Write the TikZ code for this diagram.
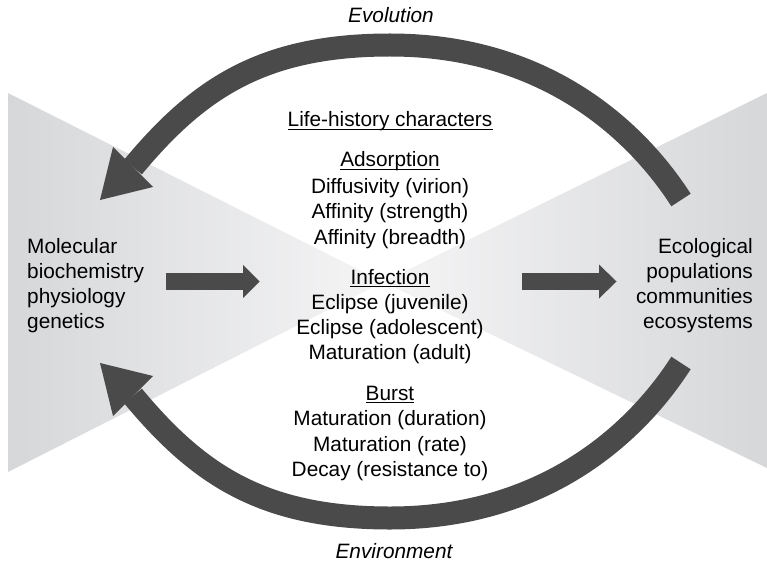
\documentclass[tikz,border=0pt]{standalone}
\usepackage{fontspec}
\setmainfont{Liberation Sans}
\definecolor{arr}{RGB}{74,74,74}
\definecolor{triL}{RGB}{214,215,217}
\definecolor{triR}{RGB}{245,245,246}
\begin{document}
\begin{tikzpicture}[x=1pt,y=-1pt,
  txt/.style={font=\fontsize{20.8}{25}\selectfont, inner sep=0pt, anchor=base, text=black},
  itxt/.style={txt, font=\fontsize{20.8}{25}\selectfont\itshape},
  lefttxt/.style={txt, anchor=base west},
  righttxt/.style={txt, anchor=base east},
  ulline/.style={draw=black, line width=1.4pt},
  bigshaft/.style={draw=arr, line width=23pt, line cap=butt},
  smallshaft/.style={draw=arr, line width=17pt, line cap=butt},
  headfill/.style={fill=arr}]
\useasboundingbox (0,0) rectangle (767,564);

% background bow-tie
\shade[left color=triL, right color=triR] (8,93) -- (8,472) -- (383,282) -- cycle;
\shade[left color=triR, right color=triL] (767,93) -- (767,468) -- (383,282) -- cycle;

% Evolution arrow (top)
\coordinate (evoTail) at (681,200);
\coordinate (evoTop) at (390,45);
\coordinate (evoBase) at (133,167);
\coordinate (evoTip) at (100,200);
\coordinate (evoB1) at (153,187);
\coordinate (evoB2) at (113,147);
\draw[bigshaft] (evoTail) .. controls (634,127) and (542,45) .. (evoTop)
   .. controls (262,45) and (198,89) .. (evoBase);
\fill[headfill] (evoTip) -- (evoB1) -- (evoB2) -- cycle;

% Environment arrow (bottom)
\coordinate (envTail) at (681,363);
\coordinate (envBot) at (390,518);
\coordinate (envBase) at (133,396);
\coordinate (envTip) at (100,363);
\coordinate (envB1) at (153,376);
\coordinate (envB2) at (113,416);
\draw[bigshaft] (envTail) .. controls (634,436) and (542,518) .. (envBot)
   .. controls (262,518) and (198,474) .. (envBase);
\fill[headfill] (envTip) -- (envB1) -- (envB2) -- cycle;

% straight arrows
\coordinate (laS) at (166,281.5);
\coordinate (laE) at (244,281.5);
\coordinate (laT) at (259.5,281.5);
\draw[smallshaft] (laS) -- (laE);
\fill[headfill] (243,265) -- (laT) -- (243,298) -- cycle;
\coordinate (raS) at (522,281.5);
\coordinate (raE) at (600,281.5);
\coordinate (raT) at (616.5,281.5);
\draw[smallshaft] (raS) -- (raE);
\fill[headfill] (599,264.5) -- (raT) -- (599,298.5) -- cycle;

% italic labels
\node[itxt] (evo) at (391,23) {Evolution};
\node[itxt] (env) at (394,558) {Environment};

% left block
\node[lefttxt] (mol) at (27,253) {Molecular};
\node[lefttxt] (bio) at (27,278) {biochemistry};
\node[lefttxt] (phy) at (27,303) {physiology};
\node[lefttxt] (gen) at (27,328) {genetics};

% right block
\node[righttxt] (eco) at (753,253) {Ecological};
\node[righttxt] (pop) at (753,278) {populations};
\node[righttxt] (com) at (753,303) {communities};
\node[righttxt] (ecs) at (753,328) {ecosystems};

% centre column
\node[txt] (lhc) at (390,127) {Life-history characters};
\node[txt] (ads) at (390,167) {Adsorption};
\node[txt] (dif) at (390,193) {Diffusivity (virion)};
\node[txt] (afs) at (390,218) {Affinity (strength)};
\node[txt] (afb) at (390,244) {Affinity (breadth)};
\node[txt] (inf) at (390,284) {Infection};
\node[txt] (ecj) at (390,309) {Eclipse (juvenile)};
\node[txt] (eca) at (390,334) {Eclipse (adolescent)};
\node[txt] (mad) at (390,359) {Maturation (adult)};
\node[txt] (bur) at (390,400) {Burst};
\node[txt] (mdu) at (390,425) {Maturation (duration)};
\node[txt] (mra) at (390,451) {Maturation (rate)};
\node[txt] (dec) at (390,476) {Decay (resistance to)};

% underlines
\foreach \n in {lhc,ads,inf,bur}
  \draw[ulline] ([yshift=-2.6pt]\n.base west) -- ([yshift=-2.6pt]\n.base east);
\end{tikzpicture}
\end{document}
